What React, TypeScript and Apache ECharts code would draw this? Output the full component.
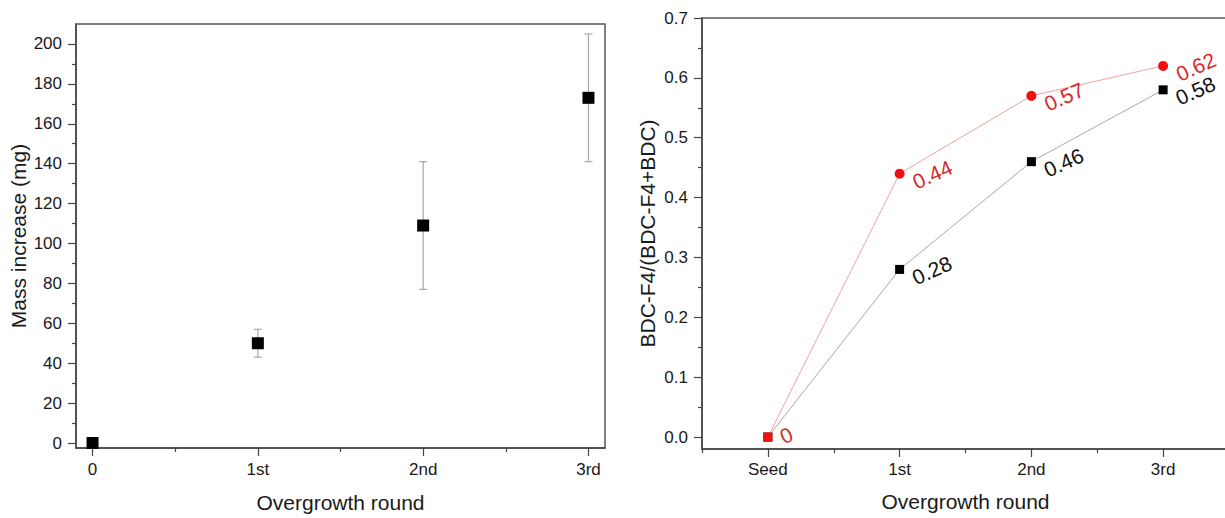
import { useEffect, useRef } from 'react';
import * as echarts from 'echarts';

// ---- Left panel data ----
const leftRounds = ['0', '1st', '2nd', '3rd'];
const leftPositions = [0, 1, 2, 3];
const massMean = [0, 50, 109, 173];
const massLow = [0, 43, 77, 141];
const massHigh = [0, 57, 141, 205];
const massTicks = [0, 20, 40, 60, 80, 100, 120, 140, 160, 180, 200];
const massMinorTicks = [10, 30, 50, 70, 90, 110, 130, 150, 170, 190];
const leftMinorX = [0.5, 1.5, 2.5];

// ---- Right panel data ----
const rightRounds = ['Seed', '1st', '2nd', '3rd'];
const rightPositions = [0, 1, 2, 3];
const ratioRed = [0, 0.44, 0.57, 0.62];
const ratioBlack = [0, 0.28, 0.46, 0.58];
const ratioTicks = [0, 0.1, 0.2, 0.3, 0.4, 0.5, 0.6, 0.7];
const ratioMinorTicks = [0.05, 0.15, 0.25, 0.35, 0.45, 0.55, 0.65];
const rightMinorX = [-0.5, 0.5, 1.5, 2.5];

const FONT = '"Liberation Sans", Arial, sans-serif';
const AXIS_COLOR = '#444';
const TEXT_COLOR = '#1a1a1a';

export default function App() {
  const ref = useRef<HTMLDivElement>(null);

  useEffect(() => {
    if (!ref.current) return;
    const chart = echarts.init(ref.current, undefined, { renderer: 'svg' });

    const axisLine = { show: true, onZero: false, lineStyle: { color: AXIS_COLOR, width: 1.5 } };
    const hiddenLine = { show: false, onZero: false };
    const majorTick = (vals: number[]) => ({
      show: true,
      length: 8,
      customValues: vals,
      lineStyle: { color: AXIS_COLOR, width: 1.2 },
    });
    const minorTickAxis = (vals: number[]) => ({
      show: true,
      length: 4,
      customValues: vals,
      lineStyle: { color: AXIS_COLOR, width: 1.2 },
    });

    const pointLabel = (color: string) => ({
      show: true, position: 'right', distance: 5, offset: [0, 10], rotate: 24,
      align: 'left', verticalAlign: 'middle',
      fontSize: 21, color, fontFamily: FONT,
      formatter: (p: any) => String(p.value[1]),
    });

    const option: any = {
      animation: false,
      backgroundColor: '#fff',
      textStyle: { fontFamily: FONT },
      grid: [
        { left: 76, top: 24, width: 529, height: 429, show: true, borderColor: '#555', borderWidth: 1.5, backgroundColor: 'transparent' },
        { left: 702, top: 18, width: 527, height: 431, show: true, borderColor: '#555', borderWidth: 1.5, backgroundColor: 'transparent' },
      ],
      xAxis: [
        {
          type: 'value', gridIndex: 0, min: -0.1, max: 3.1, position: 'bottom',
          name: 'Overgrowth round', nameLocation: 'middle', nameGap: 44,
          nameTextStyle: { fontSize: 21, color: TEXT_COLOR, fontFamily: FONT },
          axisLine, axisTick: majorTick(leftPositions), splitLine: { show: false },
          axisLabel: {
            customValues: leftPositions, fontSize: 17, color: TEXT_COLOR, fontFamily: FONT, margin: 13,
            formatter: (v: number) => leftRounds[Math.round(v)] ?? '',
          },
        },
        {
          type: 'value', gridIndex: 0, min: -0.1, max: 3.1, position: 'bottom',
          axisLine: hiddenLine, axisLabel: { show: false }, splitLine: { show: false },
          axisTick: minorTickAxis(leftMinorX),
        },
        {
          type: 'value', gridIndex: 1, min: -0.5, max: 3.5, position: 'bottom',
          name: 'Overgrowth round', nameLocation: 'middle', nameGap: 42,
          nameTextStyle: { fontSize: 21, color: TEXT_COLOR, fontFamily: FONT },
          axisLine, axisTick: majorTick(rightPositions), splitLine: { show: false },
          axisLabel: {
            customValues: rightPositions, fontSize: 17, color: TEXT_COLOR, fontFamily: FONT, margin: 12,
            formatter: (v: number) => rightRounds[Math.round(v)] ?? '',
          },
        },
        {
          type: 'value', gridIndex: 1, min: -0.5, max: 3.5, position: 'bottom',
          axisLine: hiddenLine, axisLabel: { show: false }, splitLine: { show: false },
          axisTick: minorTickAxis(rightMinorX),
        },
      ],
      yAxis: [
        {
          type: 'value', gridIndex: 0, min: -2.5, max: 210, position: 'left',
          name: 'Mass increase (mg)', nameLocation: 'middle', nameGap: 47,
          nameTextStyle: { fontSize: 21, color: TEXT_COLOR, fontFamily: FONT },
          axisLine, axisTick: majorTick(massTicks), splitLine: { show: false },
          axisLabel: {
            customValues: massTicks, fontSize: 17, color: TEXT_COLOR, fontFamily: FONT, margin: 14,
            formatter: (v: number) => String(v),
          },
        },
        {
          type: 'value', gridIndex: 0, min: -2.5, max: 210, position: 'left',
          axisLine: hiddenLine, axisLabel: { show: false }, splitLine: { show: false },
          axisTick: minorTickAxis(massMinorTicks),
        },
        {
          type: 'value', gridIndex: 1, min: -0.02, max: 0.7, position: 'left',
          name: 'BDC-F4/(BDC-F4+BDC)', nameLocation: 'middle', nameGap: 44,
          nameTextStyle: { fontSize: 21, color: TEXT_COLOR, fontFamily: FONT },
          axisLine, axisTick: majorTick(ratioTicks), splitLine: { show: false },
          axisLabel: {
            customValues: ratioTicks, fontSize: 17, color: TEXT_COLOR, fontFamily: FONT, margin: 14,
            formatter: (v: number) => v.toFixed(1),
          },
        },
        {
          type: 'value', gridIndex: 1, min: -0.02, max: 0.7, position: 'left',
          axisLine: hiddenLine, axisLabel: { show: false }, splitLine: { show: false },
          axisTick: minorTickAxis(ratioMinorTicks),
        },
      ],
      series: [
        {
          type: 'custom',
          xAxisIndex: 0, yAxisIndex: 0,
          encode: { x: 0, y: [1, 2] },
          data: massLow.map((lo, i) => [leftPositions[i], lo, massHigh[i]]),
          z: 1,
          renderItem: (_params: any, api: any) => {
            const x = api.value(0);
            const lo = api.value(1);
            const hi = api.value(2);
            if (hi === lo) return { type: 'group', children: [] };
            const top = api.coord([x, hi]);
            const bot = api.coord([x, lo]);
            const cap = 4;
            const style = { stroke: '#a8a8a8', lineWidth: 1.2 };
            return {
              type: 'group',
              children: [
                { type: 'line', shape: { x1: top[0], y1: top[1], x2: bot[0], y2: bot[1] }, style },
                { type: 'line', shape: { x1: top[0] - cap, y1: top[1], x2: top[0] + cap, y2: top[1] }, style },
                { type: 'line', shape: { x1: bot[0] - cap, y1: bot[1], x2: bot[0] + cap, y2: bot[1] }, style },
              ],
            };
          },
        },
        {
          type: 'scatter',
          xAxisIndex: 0, yAxisIndex: 0,
          symbol: 'rect', symbolSize: 12,
          itemStyle: { color: '#000', opacity: 1 },
          clip: false,
          z: 3,
          data: massMean.map((m, i) => [leftPositions[i], m]),
        },
        {
          type: 'line',
          xAxisIndex: 2, yAxisIndex: 2,
          symbol: 'rect', symbolSize: 9,
          lineStyle: { color: '#a8a8a8', width: 1 },
          itemStyle: { color: '#000', opacity: 1 },
          z: 3,
          label: pointLabel('#111'),
          data: ratioBlack.map((v, i) => ({
            value: [rightPositions[i], v],
            label: i === 0 ? { show: false } : undefined,
          })),
        },
        {
          type: 'line',
          xAxisIndex: 2, yAxisIndex: 2,
          symbol: 'circle', symbolSize: 10,
          lineStyle: { color: '#f2a0a0', width: 1 },
          itemStyle: { color: '#f01010', opacity: 1 },
          z: 4,
          label: pointLabel('#d42a2a'),
          data: ratioRed.map((v, i) => ({
            value: [rightPositions[i], v],
            symbol: i === 0 ? 'rect' : 'circle',
            symbolSize: i === 0 ? 9 : 10,
            label: i === 0 ? { offset: [3, 2] } : undefined,
          })),
        },
      ],
    };

    chart.setOption(option);
    return () => chart.dispose();
  }, []);

  return (
    <div style={{ position: 'absolute', left: 0, top: 0, width: 1225, height: 518, overflow: 'hidden', background: '#fff' }}>
      <div ref={ref} style={{ width: 1240, height: 518 }} />
    </div>
  );
}
